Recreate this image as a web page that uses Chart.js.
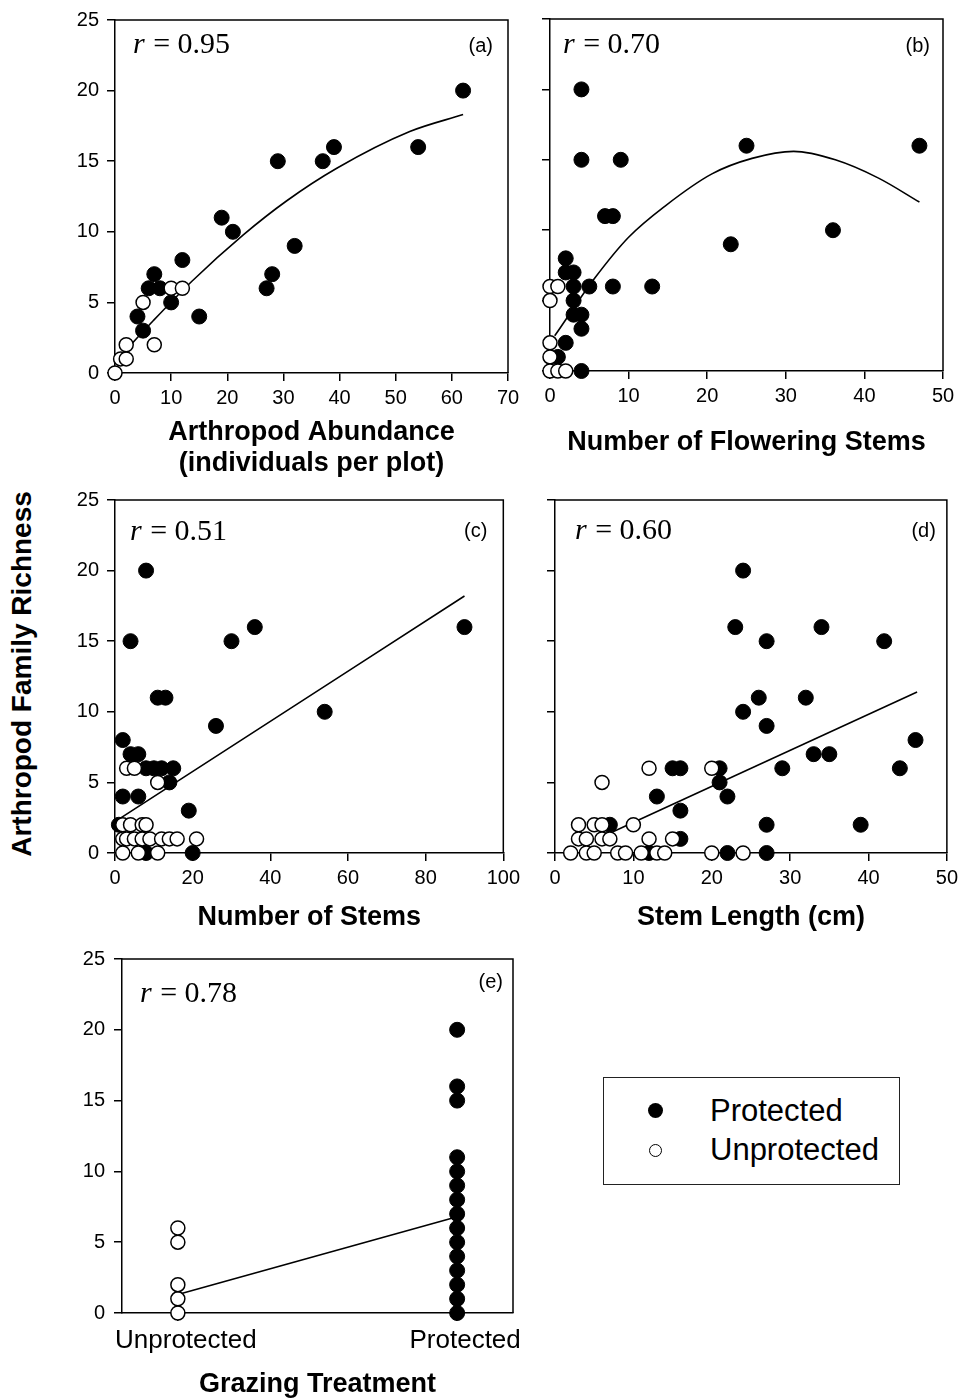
<!DOCTYPE html>
<html>
<head>
<meta charset="utf-8">
<title>Arthropod family richness</title>
<script src="https://cdn.jsdelivr.net/npm/chart.js@4.4.1/dist/chart.umd.min.js"></script>
<style>
  body { margin: 0; background: #fff; }
  #page { position: relative; width: 963px; height: 1400px; overflow: hidden; font-family: "Liberation Sans", Arial, sans-serif; color: #000; }
  canvas { position: absolute; }
  #ytitle { position: absolute; left: -178px; top: 658px; width: 400px; height: 32px; line-height: 32px; text-align: center; font-weight: bold; font-size: 28px; transform: rotate(-90deg); white-space: nowrap; }
  #legend { position: absolute; left: 603px; top: 1077px; width: 297px; height: 108px; box-sizing: border-box; border: 1.5px solid #222; }
  .dot { position: absolute; border-radius: 50%; box-sizing: border-box; }
  .lbl { position: absolute; font-size: 31px; line-height: 31px; white-space: nowrap; }
</style>
</head>
<body>
<div id="page">
  <canvas id="chartA" width="465" height="479" style="left:60px; top:0px;"></canvas>
  <canvas id="chartB" width="438" height="458" style="left:525px; top:0px;"></canvas>
  <canvas id="chartC" width="465" height="453" style="left:60px; top:480px;"></canvas>
  <canvas id="chartD" width="438" height="453" style="left:525px; top:480px;"></canvas>
  <canvas id="chartE" width="465" height="465" style="left:60px; top:935px;"></canvas>
  <div id="ytitle">Arthropod Family Richness</div>
  <div id="legend">
    <span class="dot" style="left:44px; top:25px; width:15px; height:15px; background:#000;"></span>
    <span class="lbl" style="left:106px; top:17px;">Protected</span>
    <span class="dot" style="left:45px; top:66px; width:13px; height:13px; background:#fff; border:1.5px solid #000;"></span>
    <span class="lbl" style="left:106px; top:56px;">Unprotected</span>
  </div>
</div>
<script>
'use strict';

// shared y axis (family richness)
const yTicks = [0, 5, 10, 15, 20, 25];

// (a) arthropod abundance
const aXTicks = [0, 10, 20, 30, 40, 50, 60, 70];
const aProtX = [62, 54, 39, 37, 29, 19, 21, 32, 28, 27, 12, 15, 7, 6, 8, 10, 4, 5];
const aProtY = [20, 16, 16, 15, 15, 11, 10, 9, 7, 6, 8, 4, 7, 6, 6, 5, 4, 3];
const aOpenX = [0, 1, 2, 2, 7, 5, 10, 12];
const aOpenY = [0, 1, 1, 2, 2, 5, 6, 6];
const aFitX = [0.5, 6.8, 13.7, 22.9, 30.6, 39.5, 52.5, 62];
const aFitY = [1.0, 3.7, 6.5, 9.8, 12.2, 14.5, 17.1, 18.3];

// (b) flowering stems
const bXTicks = [0, 10, 20, 30, 40, 50];
const bProtX = [4, 4, 9, 25, 47, 7, 8, 36, 23, 2, 2, 3, 3, 5, 8, 13, 3, 3, 4, 4, 2, 1, 4];
const bProtY = [20, 15, 15, 16, 16, 11, 11, 10, 9, 8, 7, 7, 6, 6, 6, 6, 5, 4, 4, 3, 2, 1, 0];
const bOpenX = [0, 1, 0, 0, 0, 0, 1, 2];
const bOpenY = [6, 6, 5, 2, 1, 0, 0, 0];
const bFitX = [0.6, 5.7, 10, 14.6, 20.6, 25.7, 31, 36.3, 41.8, 47];
const bFitY = [2.5, 6.6, 9.5, 11.7, 14.0, 15.1, 15.6, 15.0, 13.7, 12.0];

// (c) number of stems
const cXTicks = [0, 20, 40, 60, 80, 100];
const cProtX = [8, 4, 30, 36, 90, 11, 13, 54, 26, 2, 4, 6, 8, 10, 12, 15, 14, 2, 6, 19, 20, 1, 8];
const cProtY = [20, 15, 15, 16, 16, 11, 11, 10, 9, 8, 7, 7, 6, 6, 6, 6, 5, 4, 4, 3, 0, 2, 0];
const cOpenX = [3, 5, 11, 2, 4, 7, 8, 2, 3, 5, 7, 9, 12, 14, 16, 21, 2, 6, 11];
const cOpenY = [6, 6, 5, 2, 2, 2, 2, 1, 1, 1, 1, 1, 1, 1, 1, 1, 0, 0, 0];
const cFitX = [1, 90];
const cFitY = [2.4, 18.2];

// (d) stem length
const dXTicks = [0, 10, 20, 30, 40, 50];
const dProtX = [24, 23, 34, 27, 42, 26, 32, 24, 27, 46, 33, 35, 29, 44, 15, 16, 21, 21, 13, 22, 16, 27, 39, 7, 16, 22, 27, 12];
const dProtY = [20, 16, 16, 15, 15, 11, 11, 10, 9, 8, 7, 7, 6, 6, 6, 6, 6, 5, 4, 4, 3, 2, 2, 2, 1, 0, 0, 0];
const dOpenX = [6, 12, 20, 3, 5, 6, 10, 3, 4, 6, 7, 12, 15, 2, 4, 5, 8, 9, 11, 13, 14, 20, 24];
const dOpenY = [5, 6, 6, 2, 2, 2, 2, 1, 1, 1, 1, 1, 1, 0, 0, 0, 0, 0, 0, 0, 0, 0, 0];
const dFitX = [7.4, 46.2];
const dFitY = [1.5, 11.4];

// (e) grazing treatment
const eCategories = ['Unprotected', 'Protected'];
const eOpenY = [0, 1, 2, 5, 6];
const eProtY = [0, 1, 2, 3, 4, 5, 6, 7, 8, 9, 10, 11, 15, 16, 20];
const eFitY = [1.3, 6.8];

const rValues = ['0.95', '0.70', '0.51', '0.60', '0.78'];

const FONT = '"Liberation Sans", Arial, sans-serif';
const SERIF = '"Liberation Serif", "Times New Roman", serif';

function toPoints(xs, ys) {
  return xs.map((x, i) => ({ x: x, y: ys[i] }));
}

function makeDatasets(fit, prot, open) {
  return [
    { label: 'fit', data: fit, showLine: true, borderColor: '#000', borderWidth: 1.6,
      pointRadius: 0, cubicInterpolationMode: 'monotone', order: 3, clip: false },
    { label: 'Protected', data: prot, pointRadius: 7.5, pointBackgroundColor: '#000',
      pointBorderColor: '#000', pointBorderWidth: 1, order: 2, clip: false },
    { label: 'Unprotected', data: open, pointRadius: 7, pointBackgroundColor: '#fff',
      pointBorderColor: '#000', pointBorderWidth: 1.5, order: 1, clip: false }
  ];
}

// frame on top/right plus r value and panel letter
const panelDecor = {
  id: 'panelDecor',
  beforeDatasetsDraw(chart) {
    const { ctx, chartArea: a } = chart;
    ctx.save();
    ctx.strokeStyle = '#000';
    ctx.lineWidth = 1.5;
    ctx.beginPath();
    ctx.moveTo(a.left, a.top);
    ctx.lineTo(a.right, a.top);
    ctx.lineTo(a.right, a.bottom);
    ctx.stroke();
    ctx.restore();
  },
  afterDraw(chart, args, opts) {
    const { ctx, chartArea: a } = chart;
    ctx.save();
    ctx.fillStyle = '#000';
    ctx.textBaseline = 'alphabetic';
    let x = a.left + opts.rAt[0];
    let y = a.top + opts.rAt[1];
    ctx.font = 'italic 30px ' + SERIF;
    ctx.fillText('r', x, y);
    let w = ctx.measureText('r').width;
    ctx.font = '30px ' + SERIF;
    ctx.fillText(' = ' + opts.r, x + w + 1, y);
    ctx.font = '20px ' + FONT;
    ctx.textAlign = 'right';
    ctx.fillText(opts.tag, a.right - opts.tagAt[0], a.top + opts.tagAt[1]);
    ctx.restore();
  }
};

function axis(o) {
  return {
    type: 'linear',
    min: o.min,
    max: o.max,
    afterBuildTicks: scale => { scale.ticks = o.ticks.map(v => ({ value: v })); },
    afterFit: scale => {
      if (o.width !== undefined) scale.width = o.width;
      if (o.height !== undefined) scale.height = o.height;
    },
    ticks: {
      display: o.labels !== false,
      callback: o.callback || (v => String(v)),
      font: { family: FONT, size: o.fontSize || 20 },
      color: '#000',
      padding: o.padding,
      labelOffset: o.labelOffset || 0,
      maxRotation: 0,
      minRotation: 0,
      autoSkip: false
    },
    grid: { display: true, drawOnChartArea: false, drawTicks: true, tickLength: 8, color: '#000', lineWidth: 1.5 },
    border: { display: true, color: '#000', width: 1.5 },
    title: {
      display: !!o.title,
      text: o.title,
      color: '#000',
      font: { family: FONT, size: 27, weight: 'bold', lineHeight: 1.15 },
      padding: { top: 0, bottom: 0 }
    }
  };
}

function makePanel(id, p) {
  return new Chart(document.getElementById(id), {
    type: 'scatter',
    data: { datasets: p.datasets },
    options: {
      responsive: false,
      animation: false,
      devicePixelRatio: 1,
      events: [],
      layout: { padding: { left: 0, top: p.top, right: p.right, bottom: 0 } },
      scales: { x: p.x, y: p.y },
      plugins: {
        legend: { display: false },
        tooltip: { enabled: false },
        panelDecor: p.decor
      }
    },
    plugins: [panelDecor]
  });
}

makePanel('chartA', {
  top: 20, right: 17,
  datasets: makeDatasets(toPoints(aFitX, aFitY), toPoints(aProtX, aProtY), toPoints(aOpenX, aOpenY)),
  x: axis({ min: 0, max: 70, ticks: aXTicks, height: 106, padding: 5,
    title: ['Arthropod Abundance', '(individuals per plot)'] }),
  y: axis({ min: 0, max: 25, ticks: yTicks, width: 55, padding: 8 }),
  decor: { r: rValues[0], tag: '(a)', rAt: [18, 33], tagAt: [15, 32] }
});

makePanel('chartB', {
  top: 19, right: 20,
  datasets: makeDatasets(toPoints(bFitX, bFitY), toPoints(bProtX, bProtY), toPoints(bOpenX, bOpenY)),
  x: axis({ min: 0, max: 50, ticks: bXTicks, height: 87, padding: 5,
    title: 'Number of Flowering Stems' }),
  y: axis({ min: 0, max: 25, ticks: yTicks, width: 25, labels: false }),
  decor: { r: rValues[1], tag: '(b)', rAt: [13, 34], tagAt: [13, 33] }
});

makePanel('chartC', {
  top: 20, right: 17,
  datasets: makeDatasets(toPoints(cFitX, cFitY), toPoints(cProtX, cProtY), toPoints(cOpenX, cOpenY)),
  x: axis({ min: 0, max: 100, ticks: cXTicks, height: 80, padding: 5,
    title: 'Number of Stems' }),
  y: axis({ min: 0, max: 25, ticks: yTicks, width: 55, padding: 8 }),
  decor: { r: rValues[2], tag: '(c)', rAt: [15, 40], tagAt: [16, 37] }
});

makePanel('chartD', {
  top: 20, right: 15,
  datasets: makeDatasets(toPoints(dFitX, dFitY), toPoints(dProtX, dProtY), toPoints(dOpenX, dOpenY)),
  x: axis({ min: 0, max: 50, ticks: dXTicks, height: 80, padding: 5,
    title: 'Stem Length (cm)' }),
  y: axis({ min: 0, max: 25, ticks: yTicks, width: 30, labels: false }),
  decor: { r: rValues[3], tag: '(d)', rAt: [20, 39], tagAt: [11, 37] }
});

// category positions 0 and 1 on a linear axis
const eProtIdx = eCategories.indexOf('Protected');
const eOpenIdx = eCategories.indexOf('Unprotected');
makePanel('chartE', {
  top: 24, right: 12,
  datasets: makeDatasets(
    toPoints([eOpenIdx, eProtIdx], eFitY),
    toPoints(eProtY.map(() => eProtIdx), eProtY),
    toPoints(eOpenY.map(() => eOpenIdx), eOpenY)),
  x: axis({ min: -0.2, max: 1.2, ticks: eCategories.map((c, i) => i), height: 87, padding: 4,
    fontSize: 26, labelOffset: 8, callback: v => eCategories[v], title: 'Grazing Treatment' }),
  y: axis({ min: 0, max: 25, ticks: yTicks, width: 62, padding: 9 }),
  decor: { r: rValues[4], tag: '(e)', rAt: [18, 43], tagAt: [10, 29] }
});
</script>
</body>
</html>
